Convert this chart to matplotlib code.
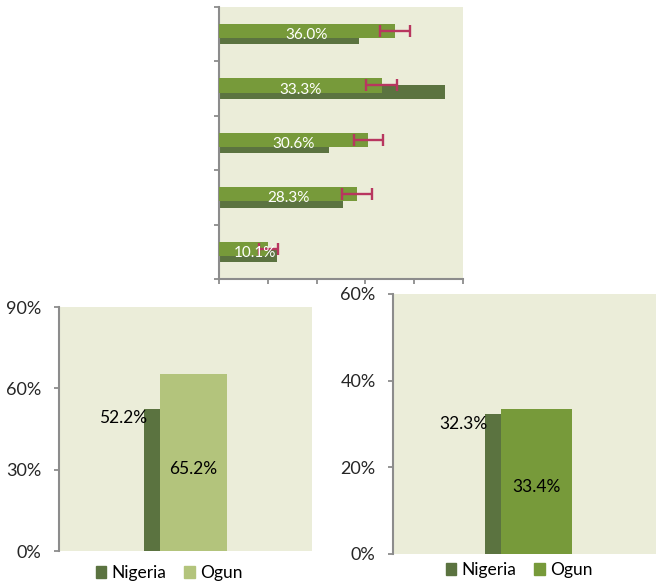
import matplotlib.pyplot as plt
from matplotlib.patches import Patch

# top chart: horizontal bars, five groups (top to bottom)
top_ogun = [36.0, 33.3, 30.6, 28.3, 10.1]
top_ogun_err = [3.1, 3.2, 3.0, 3.0, 2.0]
top_nigeria = [28.6, 46.4, 22.5, 25.5, 11.8]
top_labels = ['36.0%', '33.3%', '30.6%', '28.3%', '10.1%']

# bottom left chart
left_nigeria = 52.2
left_ogun = 65.2

# bottom right chart
right_nigeria = 32.3
right_ogun = 33.4

BG = '#EBEDD9'
DARK = '#5B7340'
GREEN = '#779A3A'
LIGHT = '#B3C47C'
ERR = '#B8365F'
SPINE = '#8C8C8C'

plt.rcParams['font.family'] = ['Lato', 'DejaVu Sans']

fig = plt.figure(figsize=(6.56, 5.88), dpi=100)
W, H = 656, 588


def px_axes(x0, y0, x1, y1):
    return fig.add_axes([x0 / W, (H - y1) / H, (x1 - x0) / W, (y1 - y0) / H])


def style(ax):
    ax.set_facecolor(BG)
    for s in ['top', 'right']:
        ax.spines[s].set_visible(False)
    ax.spines['left'].set_color(SPINE)
    ax.spines['left'].set_linewidth(1.5)
    ax.spines['bottom'].set_color(SPINE)
    ax.spines['bottom'].set_linewidth(1.5)
    ax.tick_params(color=SPINE, width=1.3, length=3.5, labelsize=13, colors='#262626', pad=9)
    ax.tick_params(axis='both', color=SPINE)


# ---- top chart ----
ax = px_axes(219, 7, 463, 279)
style(ax)
ypos = list(range(len(top_ogun)))
h = 0.26
off = 0.058
ax.barh([y + off for y in ypos], top_nigeria, height=h, color=DARK, zorder=2)
ax.barh([y - off for y in ypos], top_ogun, height=h, color=GREEN, zorder=3)
ax.errorbar(top_ogun, [y - off for y in ypos], xerr=top_ogun_err, fmt='none',
            ecolor=ERR, elinewidth=1.7, capsize=4.3, capthick=1.7, zorder=4)
for y, v, lab in zip(ypos, top_ogun, top_labels):
    ax.text(max(v / 2, 7.3), y + 0.02, lab, color='white', fontsize=11,
            ha='center', va='center', zorder=5)
ax.set_xlim(0, 50)
ax.set_ylim(4.5, -0.5)
ax.set_xticks([0, 10, 20, 30, 40, 50])
ax.set_xticklabels([])
ax.set_yticks([-0.5, 0.5, 1.5, 2.5, 3.5, 4.5])
ax.set_yticklabels([])

# ---- bottom left chart ----
ax2 = px_axes(59, 307, 312, 551)
style(ax2)
ax2.spines['bottom'].set_visible(False)
ax2.bar(-0.164, left_nigeria, width=0.063, align='edge', color=DARK, zorder=2)
ax2.bar(-0.101, left_ogun, width=0.265, align='edge', color=LIGHT, zorder=2)
ax2.annotate('52.2%', (-0.164, left_nigeria), xytext=(2, -6), textcoords='offset points',
             ha='right', va='center', fontsize=12.5, color='black', zorder=5)
ax2.annotate('65.2%', (-0.101 + 0.265 / 2, left_ogun / 2), xytext=(0, -4.7),
             textcoords='offset points', ha='center', va='center', fontsize=12.5,
             color='black', zorder=5)
ax2.set_xlim(-0.5, 0.5)
ax2.set_ylim(0, 90)
ax2.set_yticks([0, 30, 60, 90])
ax2.set_yticklabels(['0%', '30%', '60%', '90%'])
ax2.set_xticks([])
handles = [Patch(color=DARK, label='Nigeria'), Patch(color=LIGHT, label='Ogun')]
fig.legend(handles=handles, loc='center', bbox_to_anchor=(169 / W, 1 - 573 / H),
           ncol=2, frameon=False, fontsize=12.5, handlelength=0.62, handleheight=0.62,
           handletextpad=0.3, columnspacing=1.0, borderpad=0)

# ---- bottom right chart ----
ax3 = px_axes(393, 294, 656, 554)
style(ax3)
ax3.spines['bottom'].set_visible(False)
ax3.bar(-0.150, right_nigeria, width=0.061, align='edge', color=DARK, zorder=2)
ax3.bar(-0.089, right_ogun, width=0.27, align='edge', color=GREEN, zorder=2)
ax3.annotate('32.3%', (-0.150, right_nigeria), xytext=(2, -7), textcoords='offset points',
             ha='right', va='center', fontsize=12.5, color='black', zorder=5)
ax3.annotate('33.4%', (-0.089 + 0.27 / 2, right_ogun / 2), xytext=(0, -4),
             textcoords='offset points', ha='center', va='center', fontsize=12.5,
             color='black', zorder=5)
ax3.set_xlim(-0.5, 0.5)
ax3.set_ylim(0, 60)
ax3.set_yticks([0, 20, 40, 60])
ax3.set_yticklabels(['0%', '20%', '40%', '60%'])
ax3.set_xticks([])
handles = [Patch(color=DARK, label='Nigeria'), Patch(color=GREEN, label='Ogun')]
fig.legend(handles=handles, loc='center', bbox_to_anchor=(519 / W, 1 - 570 / H),
           ncol=2, frameon=False, fontsize=12.5, handlelength=0.62, handleheight=0.62,
           handletextpad=0.3, columnspacing=1.0, borderpad=0)

fig.savefig('out.png', dpi=100)
